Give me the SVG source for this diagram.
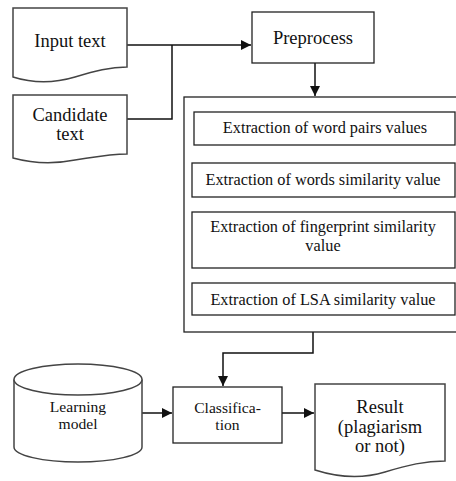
<svg xmlns="http://www.w3.org/2000/svg" width="456" height="481" viewBox="0 0 456 481" font-family="'Liberation Serif', 'DejaVu Serif', serif">
<style>
.shape{fill:#fff;stroke:#444;stroke-width:1.5}
.box{fill:#fff;stroke:#222;stroke-width:1.3}
.conn{fill:none;stroke:#111;stroke-width:1.5}
.t{font-family:'Liberation Serif','DejaVu Serif',serif;fill:#111;text-anchor:middle}
.big{font-size:18.5px}
.mid{font-size:16.3px}
.sm{font-size:15.6px}
</style>
<defs>
<marker id="arr" viewBox="0 0 10 10" refX="10" refY="5" markerWidth="10" markerHeight="10" markerUnits="userSpaceOnUse" orient="auto">
<path d="M0,0 L10,5 L0,10 Z" fill="#111"/>
</marker>
</defs>
<rect width="456" height="481" fill="#fff"/>
<g id="connectors">
<path class="conn" d="M127,45 H251" marker-end="url(#arr)"/>
<path class="conn" d="M127,119 H172 V45"/>
<path class="conn" d="M315,63 V96" marker-end="url(#arr)"/>
<path class="conn" d="M313,332 V353 H223 V386" marker-end="url(#arr)"/>
<path class="conn" d="M142,413 H172" marker-end="url(#arr)"/>
<path class="conn" d="M282,413 H314" marker-end="url(#arr)"/>
</g>
<g id="input-text">
<path class="shape" d="M13,8 H127 V67 C110,67 95,71 75,77 C55,83 35,84 13,77 Z"/>
<text class="t big" x="70" y="47">Input text</text>
</g>
<g id="candidate-text">
<path class="shape" d="M13,95 H127 V154 C110,154 95,157 75,160 C55,164 35,164 13,158 Z"/>
<text class="t big" x="70" y="121">Candidate</text>
<text class="t big" x="70" y="140">text</text>
</g>
<g id="preprocess">
<rect class="box" x="252" y="12" width="122" height="51"/>
<text class="t big" x="313" y="44">Preprocess</text>
</g>
<g id="extraction-container">
<rect class="box" x="184" y="97" width="280" height="235"/>
</g>
<g id="word-pairs">
<rect class="box" x="194" y="112" width="261" height="33"/>
<text class="t mid" x="325" y="133">Extraction of word pairs values</text>
</g>
<g id="words-similarity">
<rect class="box" x="192" y="163" width="263" height="34"/>
<text class="t mid" x="323" y="185">Extraction of words similarity value</text>
</g>
<g id="fingerprint-similarity">
<rect class="box" x="192" y="212" width="263" height="56"/>
<text class="t mid" x="323" y="232">Extraction of fingerprint similarity</text>
<text class="t mid" x="323" y="251">value</text>
</g>
<g id="lsa-similarity">
<rect class="box" x="192" y="283" width="263" height="32"/>
<text class="t mid" x="323" y="305">Extraction of LSA similarity value</text>
</g>
<g id="learning-model">
<path class="shape" d="M14,379.5 V447 A64,15 0 0 0 142,447 V379.5"/>
<ellipse class="shape" cx="78" cy="379.5" rx="64" ry="15.5"/>
<text class="t sm" x="78" y="412">Learning</text>
<text class="t sm" x="78" y="429">model</text>
</g>
<g id="classification">
<rect class="box" x="173" y="387" width="109" height="56"/>
<text class="t sm" x="227.5" y="413">Classifica-</text>
<text class="t sm" x="227.5" y="430">tion</text>
</g>
<g id="result">
<path class="shape" d="M315,384 H445 V461 C425,461 408,465 385,472 C362,479 340,478 315,470 Z"/>
<text class="t big" x="380" y="413">Result</text>
<text class="t big" x="380" y="433">(plagiarism</text>
<text class="t big" x="380" y="452">or not)</text>
</g>
</svg>
